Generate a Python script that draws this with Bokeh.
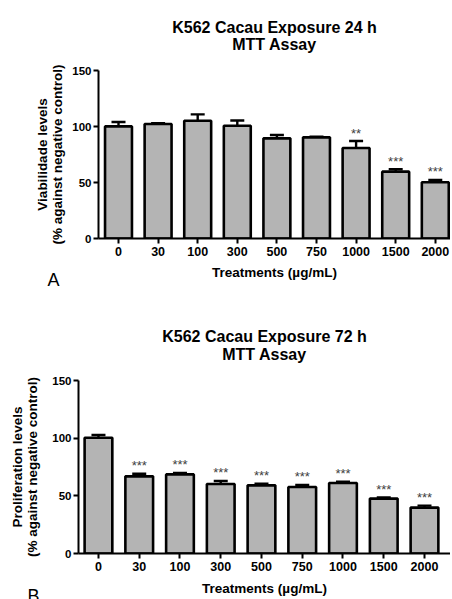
import math
from bokeh.plotting import figure
from bokeh.models import (Range1d, FixedTicker, Title, Whisker, ColumnDataSource,
                          TeeHead, LinearAxis)
from bokeh.embed import file_html
from bokeh.resources import INLINE
from bokeh.core.properties import value

# ---------------- data ----------------
treatments = ["0", "30", "100", "300", "500", "750", "1000", "1500", "2000"]

viab_24h = [100.1, 102.2, 105.1, 100.7, 89.4, 90.3, 80.8, 59.7, 50.2]
viab_24h_upper = [104.0, 103.0, 110.8, 105.4, 92.4, 90.9, 87.0, 61.8, 52.3]
sig_24h = ["", "", "", "", "", "", "**", "***", "***"]

prolif_72h = [100.4, 66.9, 68.6, 60.3, 59.1, 57.7, 61.1, 47.6, 39.8]
prolif_72h_upper = [102.7, 69.2, 69.8, 62.9, 60.6, 59.4, 62.3, 48.5, 41.5]
sig_72h = ["", "***", "***", "***", "***", "***", "***", "***", "***"]

y_ticks = [0, 50, 100, 150]

FONT = "Liberation Sans"
BAR_FILL = "#b4b4b4"


def style_label(ax):
    ax.axis_label_text_font = FONT
    ax.axis_label_text_font_style = "bold"
    ax.axis_label_text_font_size = "13.5px"
    ax.axis_label_text_color = "black"


def make_chart(vals, upper, sig, title1, title2, ylab1, ylab2, xlab, letter,
               H, left, top, bottom, xstart, xend, cfg):
    W = 450
    x = list(range(len(treatments)))
    src = ColumnDataSource(dict(x=x, value=vals, upper=upper, sig=sig))
    p = figure(width=W, height=H, output_backend="svg", toolbar_location=None,
               x_range=Range1d(xstart, xend), y_range=Range1d(0, 150),
               min_border_left=left, min_border_top=top,
               min_border_bottom=bottom, min_border_right=0)
    p.outline_line_color = None
    p.xgrid.visible = False
    p.ygrid.visible = False

    p.vbar(x="x", top="value", bottom=0, width=0.68, source=src,
           fill_color=BAR_FILL, line_color="black", line_width=2.6)
    w = Whisker(base="x", upper="upper", lower="value", source=src,
                line_width=2.4, line_color="black", level="glyph",
                upper_head=TeeHead(size=14, line_width=2.4, line_color="black"),
                lower_head=None)
    p.add_layout(w)
    p.text(x="x", y="upper", text="sig", source=src, text_align="center",
           text_baseline="alphabetic", y_offset=-8, text_font=value(FONT),
           text_font_size="13px", text_color="#404040")

    for ax in (p.xaxis[0], p.yaxis[0]):
        ax.axis_line_width = 2
        ax.axis_line_color = "black"
        ax.major_tick_line_width = 2
        ax.major_tick_line_color = "black"
        ax.major_tick_out = 5
        ax.major_tick_in = 0
        ax.minor_tick_line_color = None
        ax.major_label_text_font = FONT
        ax.major_label_text_font_style = "bold"
        ax.major_label_text_color = "black"
        style_label(ax)
    p.xaxis.ticker = FixedTicker(ticks=x)
    p.xaxis.major_label_overrides = {i: t for i, t in enumerate(treatments)}
    p.xaxis.major_label_text_font_size = "12.5px"
    p.xaxis.major_label_standoff = 3
    p.xaxis.axis_label = xlab
    p.xaxis.axis_label_standoff = cfg["xstand"]
    p.yaxis.ticker = FixedTicker(ticks=y_ticks)
    p.yaxis.major_label_text_font_size = "11.5px"
    p.yaxis.major_label_standoff = 2
    p.yaxis.axis_label = ylab2
    p.yaxis.axis_label_standoff = cfg["ystand"]

    outer = LinearAxis(ticker=FixedTicker(ticks=[]), axis_line_color=None,
                       major_tick_line_color=None, minor_tick_line_color=None,
                       axis_label=ylab1, axis_label_standoff=cfg["ystand2"])
    style_label(outer)
    p.add_layout(outer, "left")

    t2 = Title(text=title2, align="center", standoff=cfg["t2stand"],
               text_font=FONT, text_font_size="16px", text_font_style="bold",
               text_color="black")
    t1 = Title(text=title1, align="center", standoff=cfg["t1stand"],
               text_font=FONT, text_font_size="16px", text_font_style="bold",
               text_color="black")
    p.add_layout(t2, "above")
    p.add_layout(t1, "above")

    tl = Title(text=letter, align="left", offset=cfg["loff"], vertical_align="top",
               standoff=cfg["lstand"], text_font=FONT, text_font_size="18px",
               text_font_style="normal", text_color="black")
    p.add_layout(tl, "below")
    return p


p1 = make_chart(viab_24h, viab_24h_upper, sig_24h,
                "K562 Cacau Exposure 24 h", "MTT Assay",
                "Viabilidade levels", "(% against negative control)",
                "Treatments (\u00b5g/mL)", "A",
                H=300, left=98, top=70, bottom=62, xstart=-0.505, xend=8.384,
                cfg=dict(xstand=6, ystand=4, ystand2=-2, t2stand=35,
                         t1stand=-39, loff=-51, lstand=-25))

p2 = make_chart(prolif_72h, prolif_72h_upper, sig_72h,
                "K562 Cacau Exposure 72 h", "MTT Assay",
                "Proliferation levels", "(% against negative control)",
                "Treatments (\u00b5g/mL)", "B",
                H=299, left=78, top=80, bottom=46, xstart=-0.49, xend=8.638,
                cfg=dict(xstand=7, ystand=9, ystand2=-2, t2stand=35,
                         t1stand=-37, loff=-51, lstand=-25))

open("out.html", "w").write(file_html([p1, p2], INLINE))
